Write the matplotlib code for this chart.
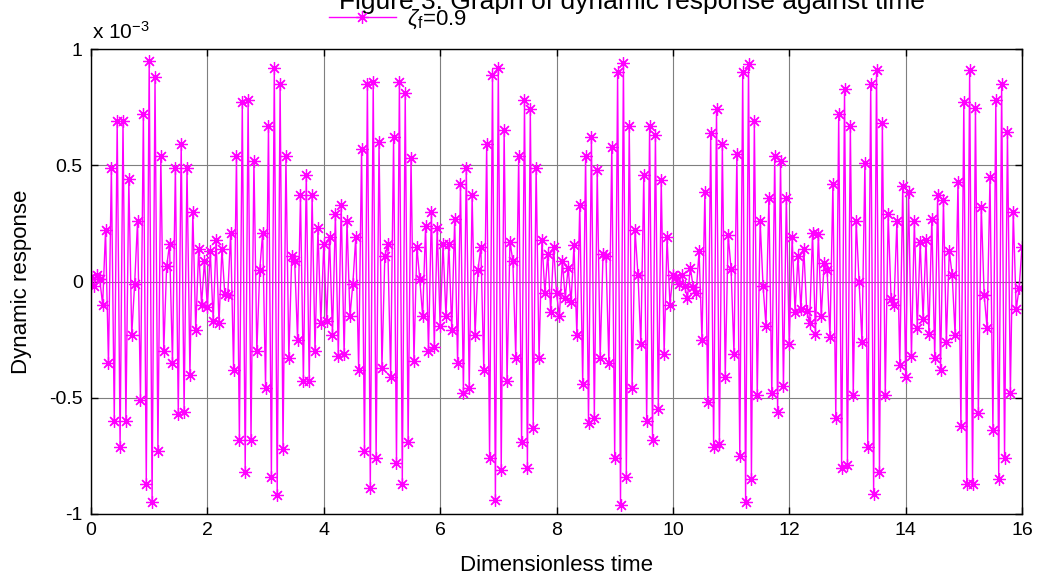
import numpy as np
import matplotlib
matplotlib.use("Agg")
import matplotlib.pyplot as plt

plt.rcParams['font.family'] = ['Liberation Sans', 'DejaVu Sans']
plt.rcParams['mathtext.fontset'] = 'custom'
plt.rcParams['mathtext.rm'] = 'Liberation Sans'
plt.rcParams['mathtext.it'] = 'Liberation Sans:italic'

# time sampling (dimensionless), step 0.05 from 0 to 16
dt = 0.05

# dynamic response values (in units of 1e-3)
resp_0_2 = [0.02, -0.02, 0.03, 0.01, -0.10, 0.22, -0.35, 0.49, -0.60, 0.69,
            -0.71, 0.69, -0.60, 0.44, -0.23, -0.01, 0.26, -0.51, 0.72, -0.87,
            0.95, -0.95, 0.88, -0.73, 0.54, -0.30, 0.065, 0.16, -0.35, 0.49,
            -0.57, 0.59, -0.56, 0.49, -0.40, 0.30, -0.21, 0.14, -0.10, 0.09]
resp_2_4 = [-0.11, 0.13, -0.17, 0.18, -0.18, 0.14, -0.055, -0.06, 0.21, -0.38,
            0.54, -0.68, 0.77, -0.82, 0.78, -0.68, 0.52, -0.30, 0.05, 0.21,
            -0.46, 0.67, -0.84, 0.92, -0.92, 0.85, -0.72, 0.54, -0.33, 0.11,
            0.09, -0.25, 0.37, -0.43, 0.46, -0.43, 0.37, -0.30, 0.23, -0.18]
resp_4_6 = [0.16, -0.17, 0.19, -0.23, 0.29, -0.32, 0.33, -0.31, 0.26, -0.15,
            -0.01, 0.19, -0.38, 0.57, -0.73, 0.85, -0.89, 0.86, -0.76, 0.60,
            -0.37, 0.11, 0.16, -0.41, 0.62, -0.78, 0.86, -0.87, 0.81, -0.69,
            0.53, -0.34, 0.15, 0.01, -0.15, 0.24, -0.30, 0.30, -0.28, 0.23]
resp_6_8 = [-0.19, 0.16, -0.15, 0.16, -0.21, 0.27, -0.35, 0.42, -0.48, 0.49,
            -0.46, 0.37, -0.23, 0.05, 0.15, -0.38, 0.59, -0.76, 0.89, -0.94,
            0.92, -0.81, 0.65, -0.43, 0.17, 0.09, -0.33, 0.54, -0.69, 0.78,
            -0.80, 0.74, -0.63, 0.49, -0.33, 0.18, -0.05, 0.12, -0.13, 0.15]
resp_8_10 = [-0.05, -0.15, 0.09, -0.07, 0.06, -0.09, 0.155, -0.23, 0.33, -0.44,
             0.54, -0.61, 0.62, -0.585, 0.48, -0.33, 0.12, 0.11, -0.35, 0.58,
             -0.76, 0.90, -0.96, 0.94, -0.84, 0.67, -0.46, 0.22, 0.03, -0.27,
             0.46, -0.60, 0.67, -0.68, 0.63, -0.55, 0.435, -0.31, 0.19, -0.10]
resp_10_12 = [0.03, 0.02, -0.01, 0.03, -0.02, -0.07, 0.06, -0.025, -0.05, 0.13,
              -0.25, 0.385, -0.52, 0.64, -0.71, 0.74, -0.70, 0.59, -0.41, 0.20,
              0.055, -0.31, 0.55, -0.75, 0.90, -0.95, 0.935, -0.85, 0.69, -0.49,
              0.26, -0.02, -0.19, 0.36, -0.48, 0.54, -0.56, 0.52, -0.45, 0.36]
resp_12_14 = [-0.27, 0.19, -0.13, 0.11, -0.12, 0.14, -0.125, -0.18, 0.21, -0.225,
              0.205, -0.15, 0.08, 0.05, -0.24, 0.42, -0.585, 0.72, -0.80, 0.83,
              -0.79, 0.67, -0.49, 0.26, 0.00, -0.26, 0.51, -0.71, 0.85, -0.915,
              0.91, -0.82, 0.68, -0.49, 0.29, -0.075, -0.10, 0.26, -0.36, 0.41]
resp_14_16 = [-0.41, 0.385, -0.32, 0.26, -0.20, 0.17, -0.16, 0.18, -0.225, 0.27,
              -0.33, 0.37, -0.38, 0.35, -0.26, 0.13, 0.03, -0.23, 0.43, -0.62,
              0.77, -0.87, 0.91, -0.87, 0.745, -0.565, 0.32, -0.06, -0.20, 0.45,
              -0.64, 0.78, -0.85, 0.85, -0.76, 0.645, -0.48, 0.30, -0.12, -0.03,
              0.15]

response = np.array(resp_0_2 + resp_2_4 + resp_4_6 + resp_6_8 +
                    resp_8_10 + resp_10_12 + resp_12_14 + resp_14_16)
time = np.arange(len(response)) * dt

x_ticks = [0, 2, 4, 6, 8, 10, 12, 14, 16]
y_ticks = [-1, -0.5, 0, 0.5, 1]
y_ticklabels = ['-1', '-0.5', '0', '0.5', '1']
legend_label = r'$\zeta_{\rm f}$=0.9'
title_text = 'Figure 3: Graph of dynamic response against time'

W, H = 1038, 578
fig = plt.figure(figsize=(W / 100, H / 100), dpi=100)
ax = fig.add_axes([91 / W, (H - 514) / H, (1022 - 91) / W, (514 - 49) / H])

line, = ax.plot(time, response, color='#FF00FF', lw=1.0,
                marker=(8, 2, 0), markersize=9, markeredgewidth=0.9,
                label=legend_label)

ax.set_xlim(0, 16)
ax.set_ylim(-1, 1)
ax.set_xticks(x_ticks)
ax.set_yticks(y_ticks)
ax.set_yticklabels(y_ticklabels)
ax.grid(True, color='#7f7f7f', lw=0.8, ls='-')
ax.set_axisbelow(True)
ax.tick_params(direction='in', length=5, width=1, top=True, right=True,
               labelsize=14, colors='black', pad=6)
for s in ax.spines.values():
    s.set_linewidth(1.0)
    s.set_color('black')

ax.set_xlabel('Dimensionless time', fontsize=16, labelpad=11)
ax.set_ylabel('Dynamic response', fontsize=16, labelpad=12)

fig.text(92 / W, 1 - 39 / H, r'x 10$^{-3}$', fontsize=15, va='baseline', ha='left')
fig.text(632 / W, 1 - 9 / H, title_text, fontsize=19, va='baseline', ha='center')

fig.legend(handles=[line], loc='upper left', bbox_to_anchor=(320 / W, 1 + 1 / H),
           frameon=False, fontsize=16, handlelength=3.0, handletextpad=0.5,
           borderaxespad=0)

fig.savefig('out.png', dpi=100)
